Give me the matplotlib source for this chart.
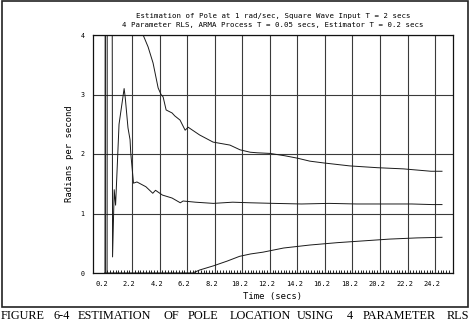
import matplotlib
matplotlib.use('Agg')
import matplotlib.pyplot as plt
import numpy as np
from matplotlib.patches import Rectangle
from matplotlib.transforms import ScaledTranslation

# pole estimates (rad/s vs time in secs)
t_upper = [0.2, 0.22, 0.26, 2.7, 3.0, 3.36, 3.72, 4.09, 4.3, 4.45, 4.67, 5.1, 5.3, 5.68,
           6.05, 6.27, 7.1, 8.08, 9.3, 10.04, 10.77, 11.3, 12.2, 13.3, 14.2, 15.1,
           16.1, 18.0, 20.0, 21.9, 23.9, 24.7]
v_upper = [-3.0, -3.0, 9.0, 6.0, 4.0, 3.80, 3.53, 3.11, 3.0, 2.96, 2.74, 2.69, 2.64, 2.57,
           2.40, 2.45, 2.32, 2.20, 2.15, 2.07, 2.03, 2.02, 2.01, 1.97, 1.93, 1.88,
           1.85, 1.80, 1.77, 1.75, 1.71, 1.71]

t_middle = [0.2, 0.37, 0.41, 0.72, 0.78, 0.9, 1.0, 1.1, 1.25, 1.62, 1.7, 1.9, 2.05,
            2.1, 2.3, 2.55, 3.2, 3.7, 3.9, 4.4, 5.1, 5.7, 5.9, 6.8, 8.1, 9.5, 10.8,
            12.5, 14.5, 16.5, 18.5, 20.5, 22.5, 24.0, 24.7]
v_middle = [-6.0, -6.0, 12.0, 10.0, 0.27, 1.40, 1.14, 1.68, 2.5, 3.1, 2.95, 2.44, 2.24,
            2.02, 1.51, 1.53, 1.45, 1.34, 1.39, 1.31, 1.26, 1.18, 1.21, 1.19, 1.17,
            1.19, 1.18, 1.17, 1.16, 1.17, 1.16, 1.16, 1.16, 1.15, 1.15]

t_lower = [0.2, 6.6, 7.1, 8.1, 9.1, 10.0, 10.8, 11.7, 13.2, 15.1, 17.1, 19.0, 20.9,
           22.9, 24.7]
v_lower = [0.0, 0.0, 0.05, 0.12, 0.2, 0.28, 0.32, 0.35, 0.42, 0.47, 0.51, 0.54, 0.57,
           0.59, 0.60]

x_labels = ['0.2', '2.2', '4.2', '6.2', '8.2', '10.2', '12.2', '14.2', '16.2',
            '18.2', '20.2', '22.2', '24.2']
y_labels = ['0', '1', '2', '3', '4']

caption_words = ['FIGURE', '6-4', 'ESTIMATION', 'OF', 'POLE', 'LOCATION', 'USING',
                 '4', 'PARAMETER', 'RLS']
caption_x = [1, 53, 78, 163, 188, 230, 297, 347, 363, 447]

mono = 'DejaVu Sans Mono'

fig = plt.figure(figsize=(4.71, 3.25), dpi=100)
ax = fig.add_axes([93 / 471, 52 / 325, 360 / 471, 238 / 325])

for t, v in ((t_upper, v_upper), (t_middle, v_middle), (t_lower, v_lower)):
    ax.plot(t, v, color='#1a1a1a', lw=0.7)

ax.set_xlim(-0.64, 25.5)
ax.set_ylim(0, 4)
ax.set_xticks([float(s) for s in x_labels])
ax.set_xticklabels(x_labels, fontsize=5.0, family=mono)
ax.set_yticks([float(s) for s in y_labels])
ax.set_yticklabels(y_labels, fontsize=4.8, family=mono)
ax.set_xticks(np.arange(0.2, 25.4, 0.2), minor=True)
ax.tick_params(which='major', length=0, pad=6)
ax.tick_params(axis='y', pad=6)
ax.tick_params(which='minor', axis='x', direction='in', length=2, width=0.6)
for lbl in ax.get_xticklabels():
    lbl.set_transform(lbl.get_transform() + ScaledTranslation(-3 / 100, 0, fig.dpi_scale_trans))
ax.grid(True, which='major', color='#3a3a3a', lw=0.8)
for s in ax.spines.values():
    s.set_linewidth(0.9)
    s.set_color('#111111')

ax.set_xlabel('Time (secs)', fontsize=6.4, family=mono, labelpad=3)
ax.set_ylabel('Radians per second', fontsize=6.4, family=mono, labelpad=5)

fig.text(273 / 471, 1 - 16 / 325, 'Estimation of Pole at 1 rad/sec, Square Wave Input T = 2 secs',
         ha='center', va='center', fontsize=5.3, family=mono)
fig.text(273 / 471, 1 - 25 / 325, '4 Parameter RLS, ARMA Process T = 0.05 secs, Estimator T = 0.2 secs',
         ha='center', va='center', fontsize=5.3, family=mono)

# frame around the figure panel
fig.patches.append(Rectangle((1.5 / 471, 1 - 306.5 / 325), 466 / 471, 306 / 325,
                             transform=fig.transFigure, fill=False, lw=1.2,
                             edgecolor='#222222'))

for word, x in zip(caption_words, caption_x):
    fig.text(x / 471, 1 - 319 / 325, word, ha='left', va='baseline',
             fontsize=8.8, family='Liberation Serif')

fig.savefig('out.png', dpi=100)
